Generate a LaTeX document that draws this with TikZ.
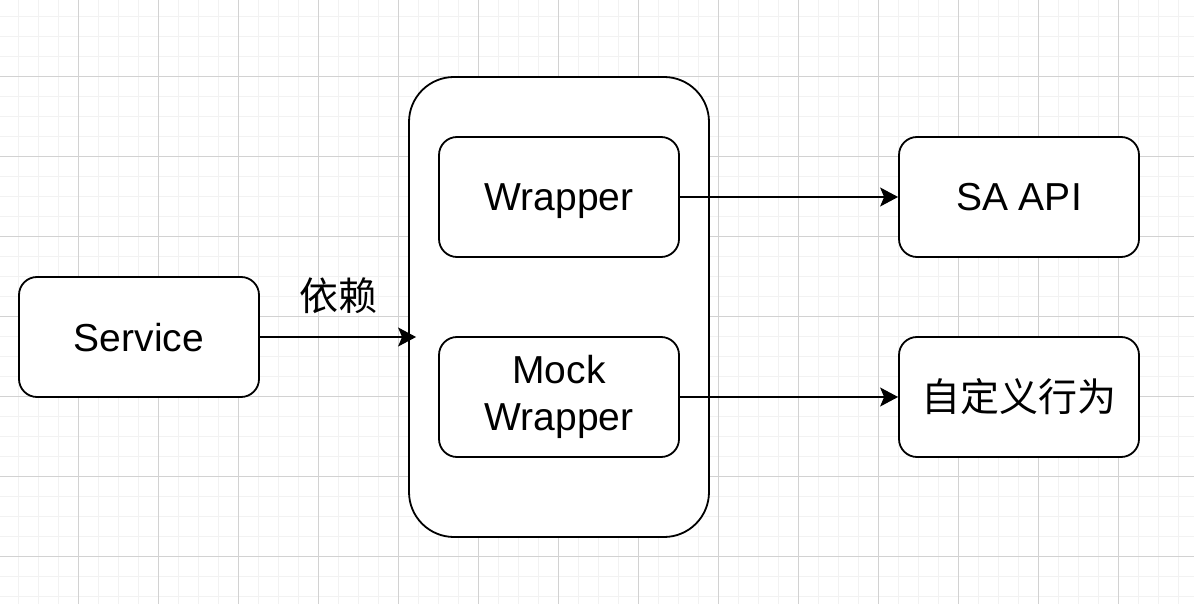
\documentclass[tikz,border=0pt]{standalone}
\usepackage{fontspec}
\setmainfont{Liberation Sans}
\newfontfamily\cjk{Noto Sans CJK SC}
\usetikzlibrary{arrows.meta}
\definecolor{gridmin}{RGB}{242,242,242}
\definecolor{gridmaj}{RGB}{210,210,210}
\tikzset{
  box/.style={draw,fill=white,line width=0.9pt,rounded corners=9pt,
    minimum width=120pt,minimum height=60pt,inner sep=0pt,align=center,
    font=\fontsize{19.5}{23.3}\selectfont},
  oneline/.style={text height=14.5pt,text depth=0.5pt},
  bigbox/.style={draw,fill=white,line width=0.9pt,rounded corners=22.5pt,
    minimum width=150pt,minimum height=230pt,inner sep=0pt},
  arr/.style={line width=0.9pt,-{Stealth[length=9pt,width=9.5pt,inset=2pt]}}
}

\begin{document}
\begin{tikzpicture}[x=0.5pt,y=-0.5pt]
  \useasboundingbox (0,0) rectangle (1194,604);
  \fill[white] (0,0) rectangle (1194,604);
  % grid
  \foreach \i in {0,...,59}{
    \draw[gridmin,line width=0.85pt] ({18.5+20*\i},0) -- ({18.5+20*\i},604);
  }
  \foreach \i in {0,...,29}{
    \draw[gridmin,line width=0.85pt] (0,{16.5+20*\i}) -- (1194,{16.5+20*\i});
  }
  \foreach \i in {0,...,14}{
    \draw[gridmaj,line width=0.5pt] ({78.5+80*\i},0) -- ({78.5+80*\i},604);
  }
  \foreach \i in {0,...,7}{
    \draw[gridmaj,line width=0.5pt] (0,{76.5+80*\i}) -- (1194,{76.5+80*\i});
  }
  % boxes
  \node[bigbox] (wrap) at (559,307) {};
  \node[box,oneline] (svc) at (139,337) {Service};
  \node[box,oneline] (wr) at (559,197) {Wrapper};
  \node[box] (mock) at (559,397) {Mock\\Wrapper};
  \node[box,oneline] (api) at (1019,197) {SA API};
  \node[box] (own) at (1019,397) {\cjk 自定义行为};
  % arrows
  \draw[arr,shorten >=-4pt] (svc.east) -- (svc.east -| wrap.west);
  \node[font=\fontsize{19.5}{22.5}\selectfont\cjk] (dep) at (338,296) {依赖};
  \draw[arr] (wr) -- (api);
  \draw[arr] (mock) -- (own);
\end{tikzpicture}
\end{document}
